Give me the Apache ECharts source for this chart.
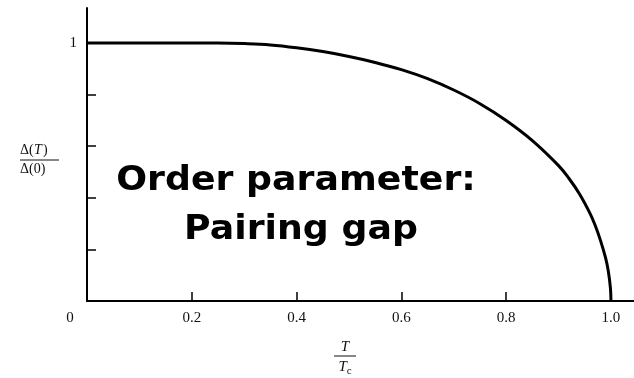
<!DOCTYPE html>
<html>
<head>
<meta charset="utf-8">
<style>
  html, body { margin: 0; padding: 0; background: #fff; }
  #chart { width: 634px; height: 378px; }
</style>
<script src="https://cdn.jsdelivr.net/npm/echarts@6/dist/echarts.min.js"></script>
</head>
<body>
<div id="chart"></div>
<script>
// Reduced temperature T/Tc
const reducedTemp = [0, 0.1, 0.2, 0.25, 0.3, 0.35, 0.4, 0.45, 0.5, 0.55, 0.6, 0.65, 0.7, 0.75, 0.8, 0.85, 0.9, 0.92, 0.94, 0.96, 0.97, 0.98, 0.99, 0.995, 0.999, 1.0];
// Normalised gap Δ(T)/Δ(0)
const gapRatio = [1, 1, 1, 1, 0.998, 0.993, 0.982, 0.967, 0.948, 0.925, 0.897, 0.862, 0.818, 0.765, 0.70, 0.622, 0.525, 0.475, 0.415, 0.34, 0.293, 0.235, 0.165, 0.115, 0.05, 0];
// Tick positions and labels
const xTicks = [0.2, 0.4, 0.6, 0.8, 1.0];
const xLabels = [0, 0.2, 0.4, 0.6, 0.8, 1.0];
const yTicks = [0.2, 0.4, 0.6, 0.8];
const yLabels = [1];

const chart = echarts.init(document.getElementById('chart'), null, { renderer: 'canvas' });
const serif = '"Liberation Serif", "DejaVu Serif", serif';
const captionFont = 'bold 33px "DejaVu Sans", sans-serif';

chart.setOption({
  animation: false,
  backgroundColor: '#fff',
  grid: { left: 87, right: 0, top: 8, bottom: 77 },
  xAxis: {
    type: 'value',
    min: 0,
    max: 1.044,
    splitLine: { show: false },
    axisLine: { show: true, onZero: false, lineStyle: { color: '#000', width: 2 } },
    axisTick: { show: true, inside: true, length: 9, customValues: xTicks, lineStyle: { color: '#000', width: 1.5 } },
    axisLabel: {
      customValues: xLabels,
      margin: 10,
      color: '#111',
      fontFamily: serif,
      fontSize: 15,
      formatter: v => v === 0 ? '{z|0}' : v.toFixed(1),
      rich: { z: { fontFamily: serif, fontSize: 15, color: '#111', padding: [0, 34, 0, 0] } }
    }
  },
  yAxis: {
    type: 'value',
    min: 0,
    max: 1.136,
    splitLine: { show: false },
    axisLine: { show: true, onZero: false, lineStyle: { color: '#000', width: 2 } },
    axisTick: { show: true, inside: true, length: 9, customValues: yTicks, lineStyle: { color: '#000', width: 1.5 } },
    axisLabel: {
      customValues: yLabels,
      margin: 10,
      color: '#111',
      fontFamily: serif,
      fontSize: 15,
      formatter: v => String(v)
    }
  },
  series: [{
    type: 'line',
    data: reducedTemp.map((t, i) => [t, gapRatio[i]]),
    showSymbol: false,
    smooth: 0.4,
    lineStyle: { color: '#000', width: 3 },
    z: 3
  }],
  graphic: [
    // y-axis name: Δ(T) / Δ(0)
    { type: 'text', left: 20, top: 143, style: { text: 'Δ(', font: '14px ' + serif, fill: '#111' } },
    { type: 'text', left: 34, top: 143, style: { text: 'T', font: 'italic 14px ' + serif, fill: '#111' } },
    { type: 'text', left: 43, top: 143, style: { text: ')', font: '14px ' + serif, fill: '#111' } },
    { type: 'line', shape: { x1: 20, y1: 160, x2: 59, y2: 160 }, style: { stroke: '#111', lineWidth: 1 } },
    { type: 'text', left: 20, top: 162, style: { text: 'Δ(0)', font: '14px ' + serif, fill: '#111' } },
    // x-axis name: T / Tc
    { type: 'text', x: 345, y: 347, style: { text: 'T', font: 'italic 15px ' + serif, fill: '#111', align: 'center', verticalAlign: 'middle' } },
    { type: 'line', shape: { x1: 334, y1: 356, x2: 356, y2: 356 }, style: { stroke: '#111', lineWidth: 1 } },
    { type: 'text', x: 345, y: 367, style: { text: '{t|T}{c|c}', font: 'italic 15px ' + serif, fill: '#111', align: 'center', verticalAlign: 'middle',
      rich: { t: { fontFamily: serif, fontStyle: 'italic', fontSize: 15, fill: '#111' }, c: { fontFamily: serif, fontSize: 11, fill: '#111', padding: [8, 0, 0, 0] } } } },
    // caption, slightly widened for a rounded hand-lettered look
    { type: 'text', x: 296, y: 181, scaleX: 1.1, style: { text: 'Order parameter:', font: captionFont, fill: '#000', align: 'center', verticalAlign: 'middle' } },
    { type: 'text', x: 301, y: 230, scaleX: 1.1, style: { text: 'Pairing gap', font: captionFont, fill: '#000', align: 'center', verticalAlign: 'middle' } }
  ]
});
</script>
</body>
</html>
